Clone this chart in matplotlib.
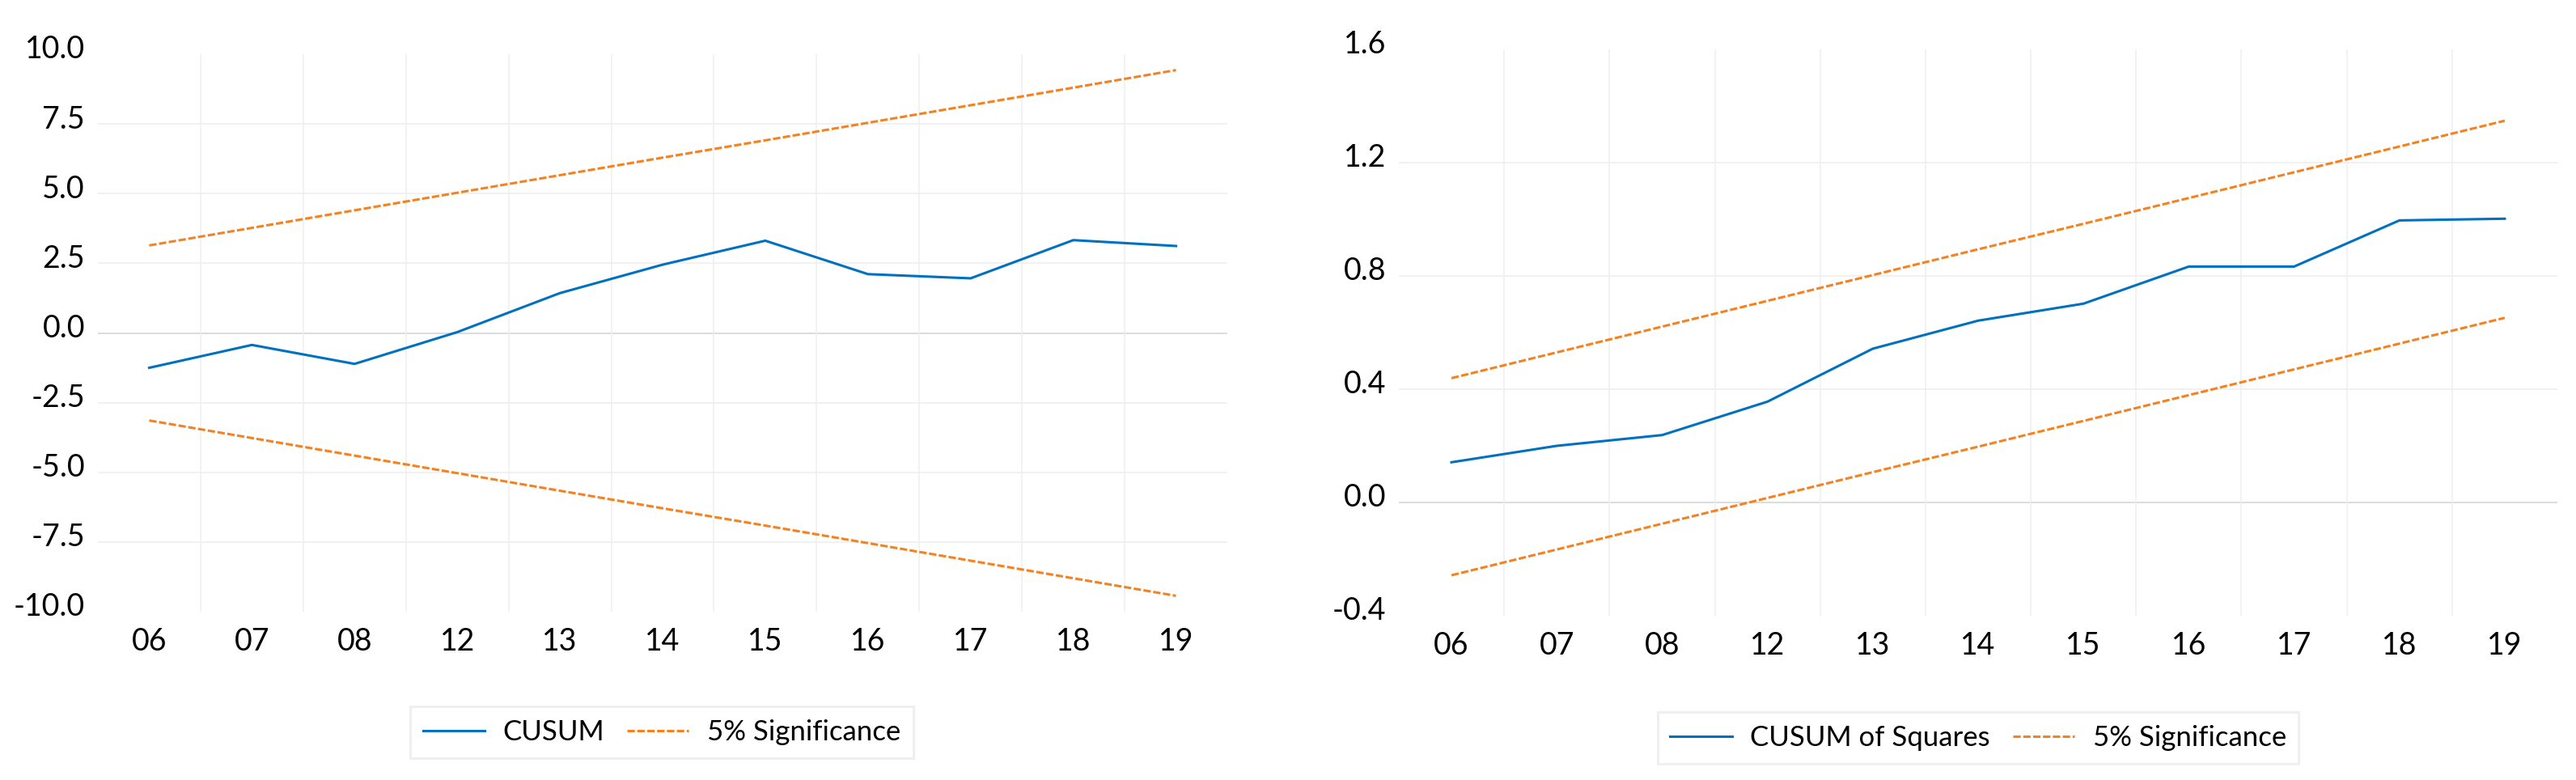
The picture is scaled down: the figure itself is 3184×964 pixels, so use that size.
import matplotlib
matplotlib.use('Agg')
from matplotlib import pyplot as plt
from matplotlib.transforms import ScaledTranslation

plt.rcParams['font.family'] = ['Lato', 'DejaVu Sans']

years = ['06', '07', '08', '12', '13', '14', '15', '16', '17', '18', '19']

# CUSUM test
cusum = [-1.25, -0.43, -1.11, 0.03, 1.43, 2.45, 3.31, 2.11, 1.96, 3.33, 3.12]
cusum_hi = [3.14, 3.77, 4.40, 5.03, 5.66, 6.29, 6.91, 7.54, 8.17, 8.80, 9.43]
cusum_lo = [-3.14, -3.77, -4.40, -5.03, -5.66, -6.29, -6.91, -7.54, -8.17, -8.80, -9.43]
cusum_ticks = [-10.0, -7.5, -5.0, -2.5, 0.0, 2.5, 5.0, 7.5, 10.0]

# CUSUM of squares test
cusumsq = [0.142, 0.200, 0.238, 0.356, 0.543, 0.642, 0.702, 0.833, 0.833, 0.996, 1.002]
cusumsq_hi = [0.439, 0.530, 0.621, 0.712, 0.803, 0.894, 0.984, 1.075, 1.166, 1.257, 1.348]
cusumsq_lo = [-0.257, -0.166, -0.075, 0.016, 0.107, 0.197, 0.288, 0.379, 0.470, 0.561, 0.652]
cusumsq_ticks = [-0.4, 0.0, 0.4, 0.8, 1.2, 1.6]

BLUE = '#0070C0'
ORANGE = '#F58220'
W, H = 3184, 964

fig = plt.figure(figsize=(W / 100, H / 100), dpi=100)


def panel(rect, series, hi, lo, ticks, fmt, name, leg_xy):
    ax = fig.add_axes(rect)
    x = list(range(len(years)))
    ax.plot(x, series, color=BLUE, lw=2.2, label=name, zorder=3)
    ax.plot(x, hi, color=ORANGE, lw=2.2, ls=(0, (3, 1)), label='5% Significance', zorder=3)
    ax.plot(x, lo, color=ORANGE, lw=2.2, ls=(0, (3, 1)), zorder=3)

    ax.set_xlim(-0.5, len(years) - 0.5)
    ax.set_ylim(ticks[0], ticks[-1])
    ax.set_xticks(x)
    ax.set_xticklabels(years)
    ax.set_xticks([i + 0.5 for i in x[:-1]], minor=True)
    ax.set_yticks(ticks)
    ax.set_yticklabels([fmt.format(t) for t in ticks])
    ax.grid(which='minor', axis='x', color='#EFEFEF', lw=1.1)
    for t in ticks[1:-1]:
        ax.axhline(t, color='#D6D6D6' if t == 0 else '#EFEFEF', lw=1.2, zorder=1)

    ax.tick_params(axis='both', which='both', length=0, labelsize=27, colors='black')
    ax.tick_params(axis='y', pad=11.5)
    ax.tick_params(axis='x', pad=14)
    off = ScaledTranslation(0, 6.5 / 72, fig.dpi_scale_trans)
    for lab in ax.get_yticklabels():
        lab.set_transform(lab.get_transform() + off)
    for s in ax.spines.values():
        s.set_visible(False)

    leg = ax.legend(loc='center', bbox_to_anchor=leg_xy, bbox_transform=fig.transFigure,
                    ncol=2, fontsize=25, frameon=True, fancybox=False,
                    handlelength=2.2, handletextpad=0.65, columnspacing=0.8,
                    borderpad=0.45)
    fr = leg.get_frame()
    fr.set_edgecolor('#EBEBEB')
    fr.set_linewidth(2.2)
    return ax


panel([121 / W, (H - 756) / H, (1517 - 121) / W, (756 - 67) / H],
      cusum, cusum_hi, cusum_lo, cusum_ticks, '{:.1f}', 'CUSUM', (818 / W, (H - 905) / H))
panel([1729 / W, (H - 761) / H, (3161 - 1729) / W, (761 - 61) / H],
      cusumsq, cusumsq_hi, cusumsq_lo, cusumsq_ticks, '{:.1f}', 'CUSUM of Squares',
      (2445 / W, (H - 912) / H))

fig.savefig('out.png', dpi=100)
